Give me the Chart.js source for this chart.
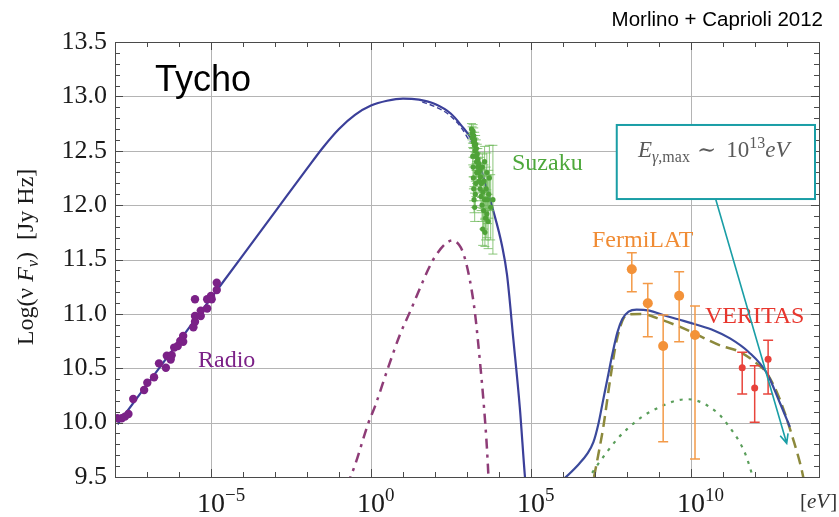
<!DOCTYPE html>
<html>
<head>
<meta charset="utf-8">
<script src="https://cdn.jsdelivr.net/npm/chart.js@4.4.1/dist/chart.umd.min.js"></script>
<style>
  html, body { margin: 0; padding: 0; background: #fff; }
  #wrap { width: 839px; height: 517px; }
</style>
</head>
<body>
<div id="wrap"><canvas id="sed" width="839" height="517"></canvas></div>
<script>
// Energies are log10(E / eV); fluxes are log10(nu F_nu / Jy Hz).

// Synchrotron model (solid)
const syncLogE = [-7.92, -6, -4, -3, -2, -1.5, -1, -0.5, 0, 0.5, 1, 1.5, 2, 2.5, 2.8, 3.2, 3.5, 3.8, 4.1, 4.25, 4.45, 4.65, 4.82, 4.88];
const syncFlux = [9.985, 10.747, 11.541, 11.938, 12.335, 12.53, 12.70, 12.83, 12.915, 12.96, 12.98, 12.97, 12.93, 12.84, 12.74, 12.57, 12.27, 11.97, 11.62, 11.36, 10.76, 10.14, 9.47, 9.30];

// Alternative synchrotron model near the peak (dashed)
const syncAltLogE = [1.6, 2.0, 2.4, 2.8, 3.1];
const syncAltFlux = [12.95, 12.905, 12.84, 12.72, 12.58];

// Thermal / secondary component (dash-dot)
const thermLogE = [-0.75, -0.5, -0.085, 0.125, 0.54, 0.906, 1.22, 1.53, 1.79, 2.0, 2.37, 2.55, 2.75, 2.885, 3.09, 3.25, 3.41, 3.53, 3.62, 3.67, 3.7];
const thermFlux = [9.42, 9.61, 9.994, 10.15, 10.51, 10.81, 11.02, 11.235, 11.41, 11.526, 11.655, 11.675, 11.635, 11.557, 11.31, 11.005, 10.546, 10.146, 9.78, 9.503, 9.30];

// Total gamma-ray model (solid)
const gammaLogE = [5.9, 6.2, 6.5, 6.75, 6.95, 7.1, 7.25, 7.4, 7.55, 7.7, 7.85, 8.05, 8.3, 8.7, 9.13, 9.6, 10.18, 10.7, 11.22, 11.8, 12.37, 12.78, 13.09];
const gammaFlux = [9.45, 9.53, 9.62, 9.71, 9.82, 9.98, 10.2, 10.42, 10.64, 10.83, 10.95, 11.02, 11.04, 11.03, 10.99, 10.95, 10.90, 10.85, 10.775, 10.65, 10.455, 10.18, 9.96];

// Hadronic (pion decay) gamma rays (dashed)
const pionLogE = [6.97, 7.1, 7.26, 7.47, 7.68, 7.99, 8.41, 9.13, 9.66, 10.18, 10.91, 11.53, 12.05, 12.37, 12.78, 13.2, 13.46, 13.56];
const pionFlux = [9.5, 9.7, 9.96, 10.39, 10.76, 10.99, 11.0, 10.94, 10.88, 10.81, 10.71, 10.65, 10.545, 10.455, 10.21, 9.84, 9.565, 9.42];

// Leptonic inverse Compton (dotted)
const icLogE = [6.75, 7.1, 7.4, 7.7, 8.0, 8.5, 9.0, 9.5, 9.9, 10.3, 10.6, 10.9, 11.2, 11.5, 11.7, 11.9, 11.96];
const icFlux = [9.47, 9.62, 9.74, 9.85, 9.94, 10.06, 10.14, 10.2, 10.215, 10.19, 10.14, 10.07, 9.96, 9.83, 9.71, 9.53, 9.46];

// Radio measurements
const radioLogE = [-7.93, -7.79, -7.69, -7.58, -7.43, -7.09, -6.99, -6.78, -6.625, -6.41, -6.38, -6.26, -6.23, -6.15, -5.96, -6.04, -5.87, -5.87, -5.55, -5.5, -5.5, -5.5, -5.32, -5.32, -5.12, -5.12, -5.0, -4.98, -4.82, -4.82];
const radioFlux = [10.04, 10.04, 10.055, 10.08, 10.217, 10.30, 10.367, 10.417, 10.545, 10.505, 10.615, 10.58, 10.62, 10.69, 10.75, 10.705, 10.744, 10.797, 10.877, 10.928, 10.98, 11.134, 10.98, 11.03, 11.05, 11.134, 11.164, 11.134, 11.22, 11.287];

// Suzaku X-ray measurements with symmetric errors
const suzakuLogE = [3.14, 3.16, 3.17, 3.18, 3.19, 3.19, 3.20, 3.20, 3.21, 3.21, 3.22, 3.23, 3.24, 3.24, 3.25, 3.26, 3.27, 3.28, 3.28, 3.29, 3.30, 3.30, 3.32, 3.33, 3.34, 3.36, 3.37, 3.38, 3.40, 3.41, 3.42, 3.44, 3.45, 3.47, 3.48, 3.49, 3.50, 3.52, 3.53, 3.55, 3.55, 3.56, 3.58, 3.60, 3.62, 3.62, 3.64, 3.66, 3.68, 3.70, 3.74, 3.81];
const suzakuFlux = [12.70, 12.66, 12.62, 12.45, 12.68, 12.35, 12.58, 12.25, 12.64, 12.15, 12.05, 12.55, 12.60, 11.98, 12.50, 12.10, 12.56, 12.45, 12.20, 12.52, 12.40, 12.30, 12.47, 12.35, 12.42, 12.30, 12.38, 12.22, 12.32, 12.15, 12.26, 12.08, 12.20, 12.00, 12.35, 11.78, 12.12, 11.95, 12.22, 12.05, 12.40, 11.75, 11.88, 12.15, 11.92, 12.30, 12.05, 11.85, 12.10, 12.25, 11.98, 12.05];
const suzakuErr  = [0.05, 0.06, 0.05, 0.08, 0.06, 0.09, 0.06, 0.10, 0.07, 0.11, 0.12, 0.06, 0.07, 0.13, 0.07, 0.12, 0.08, 0.07, 0.12, 0.08, 0.08, 0.10, 0.09, 0.08, 0.10, 0.09, 0.10, 0.10, 0.12, 0.11, 0.12, 0.13, 0.13, 0.15, 0.12, 0.15, 0.15, 0.17, 0.15, 0.18, 0.14, 0.13, 0.20, 0.20, 0.22, 0.18, 0.22, 0.25, 0.22, 0.30, 0.30, 0.50];

// Fermi-LAT measurements with upper / lower error limits
const fermiLogE = [8.15, 8.65, 9.13, 9.63, 10.125];
const fermiFlux = [11.41, 11.097, 10.705, 11.167, 10.806];
const fermiHi   = [11.563, 11.28, 10.99, 11.388, 11.072];
const fermiLo   = [11.204, 10.79, 9.825, 10.744, 9.666];

// VERITAS measurements
const veritasLogE = [11.60, 11.99, 12.41];
const veritasFlux = [10.505, 10.318, 10.582];
const veritasHi   = [10.647, 10.523, 10.757];
const veritasLo   = [10.263, 10.003, 10.263];

// Axis ticks
const xMajorExps = [-5, 0, 5, 10];
const xMinDecade = -8, xMaxDecade = 14;
const yMin = 9.5, yMax = 13.5, yStep = 0.5, yMinorStep = 0.1;

const pts = (le, fl) => le.map((v, i) => ({ x: Math.pow(10, v), y: fl[i] }));

const SERIF = '"Liberation Serif", "DejaVu Serif", serif';
const SANS = '"Liberation Sans", Arial, sans-serif';

function drawRuns(ctx, runs, x, y) {
  for (const r of runs) {
    ctx.font = r.font;
    ctx.fillText(r.t, x, y + (r.dy || 0));
    x += ctx.measureText(r.t).width + (r.gap || 0);
  }
  return x;
}
function runsWidth(ctx, runs) {
  let w = 0;
  for (const r of runs) { ctx.font = r.font; w += ctx.measureText(r.t).width + (r.gap || 0); }
  return w;
}

const decor = {
  id: 'decor',
  beforeDraw(chart) {
    const ctx = chart.ctx;
    ctx.save();
    ctx.fillStyle = '#fff';
    ctx.fillRect(0, 0, chart.width, chart.height);
    ctx.restore();
  },
  beforeDatasetsDraw(chart) {
    const { ctx, chartArea: a, scales: { x, y } } = chart;
    ctx.save();
    ctx.strokeStyle = '#b4b4b4';
    ctx.lineWidth = 1;
    ctx.beginPath();
    for (const e of xMajorExps) {
      const px = Math.round(x.getPixelForValue(Math.pow(10, e))) + 0.5;
      ctx.moveTo(px, a.top); ctx.lineTo(px, a.bottom);
    }
    for (let v = yMin + yStep; v < yMax - 1e-9; v += yStep) {
      const py = Math.round(y.getPixelForValue(v)) + 0.5;
      ctx.moveTo(a.left, py); ctx.lineTo(a.right, py);
    }
    ctx.stroke();
    ctx.restore();
  },
  beforeDatasetDraw(chart, args) {
    const ds = chart.data.datasets[args.index];
    if (!ds.errHi) return;
    const { ctx, scales: { y } } = chart;
    const meta = chart.getDatasetMeta(args.index);
    ctx.save();
    ctx.strokeStyle = ds.barColor;
    ctx.lineWidth = ds.barWidth || 1.5;
    ctx.beginPath();
    meta.data.forEach((el, i) => {
      const px = el.x;
      const hi = y.getPixelForValue(ds.errHi[i]);
      const lo = y.getPixelForValue(ds.errLo[i]);
      const c = ds.capHalf;
      ctx.moveTo(px, hi); ctx.lineTo(px, lo);
      ctx.moveTo(px - c, hi); ctx.lineTo(px + c, hi);
      ctx.moveTo(px - c, lo); ctx.lineTo(px + c, lo);
    });
    ctx.stroke();
    ctx.restore();
  },
  afterDatasetsDraw(chart) {
    const { ctx, chartArea: a, scales: { x, y } } = chart;
    ctx.save();

    // frame and inward tick marks
    ctx.strokeStyle = '#4a4a4a';
    ctx.lineWidth = 1;
    ctx.strokeRect(Math.round(a.left) + 0.5, Math.round(a.top) + 0.5, Math.round(a.right - a.left), Math.round(a.bottom - a.top));
    ctx.beginPath();
    for (let d = xMinDecade; d <= xMaxDecade; d++) {
      const px = Math.round(x.getPixelForValue(Math.pow(10, d))) + 0.5;
      const len = (d % 5 === 0) ? 8 : 5;
      ctx.moveTo(px, a.bottom); ctx.lineTo(px, a.bottom - len);
      ctx.moveTo(px, a.top); ctx.lineTo(px, a.top + len);
    }
    const nMinor = Math.round((yMax - yMin) / yMinorStep);
    for (let k = 0; k <= nMinor; k++) {
      const v = yMin + k * yMinorStep;
      const py = Math.round(y.getPixelForValue(v)) + 0.5;
      const len = (k % 5 === 0) ? 8 : 5;
      ctx.moveTo(a.left, py); ctx.lineTo(a.left + len, py);
      ctx.moveTo(a.right, py); ctx.lineTo(a.right - len, py);
    }
    ctx.stroke();

    // x tick labels: 10 with exponent
    ctx.fillStyle = '#1a1a1a';
    ctx.textBaseline = 'alphabetic';
    ctx.textAlign = 'left';
    for (const e of xMajorExps) {
      const px = x.getPixelForValue(Math.pow(10, e));
      ctx.font = '28px ' + SERIF;
      const w10 = ctx.measureText('10').width;
      const x0 = px - w10 / 2;
      drawRuns(ctx, [
        { t: '10', font: '28px ' + SERIF },
        { t: (e < 0 ? '\u2212' + (-e) : String(e)), font: '19px ' + SERIF, dy: -11 }
      ], x0, 512);
    }
    // unit label
    ctx.fillStyle = '#333';
    drawRuns(ctx, [
      { t: '[', font: '21px ' + SERIF },
      { t: 'eV', font: 'italic 21px ' + SERIF, gap: 1 },
      { t: ']', font: '21px ' + SERIF }
    ], 800, 508);

    // y axis title, rotated
    ctx.save();
    ctx.translate(33, 257);
    ctx.rotate(-Math.PI / 2);
    ctx.fillStyle = '#1a1a1a';
    const titleRuns = [
      { t: 'Log(\u03bd ', font: '24px ' + SERIF },
      { t: 'F', font: 'italic 24px ' + SERIF },
      { t: '\u03bd', font: 'italic 16px ' + SERIF, dy: 5 },
      { t: ')  [Jy Hz]', font: '24px ' + SERIF }
    ];
    drawRuns(ctx, titleRuns, -runsWidth(ctx, titleRuns) / 2, 0);
    ctx.restore();

    // headings
    ctx.fillStyle = '#000';
    ctx.font = '36px ' + SANS;
    ctx.fillText('Tycho', 155, 91);
    ctx.font = '20.5px ' + SANS;
    ctx.textAlign = 'right';
    ctx.fillText('Morlino + Caprioli 2012', 823, 26);
    ctx.textAlign = 'left';

    // data set labels
    ctx.font = '24px ' + SERIF;
    ctx.fillStyle = '#4ea83c'; ctx.fillText('Suzaku', 512, 170);
    ctx.fillStyle = '#f08b33'; ctx.fillText('FermiLAT', 592, 247);
    ctx.fillStyle = '#e8362d'; ctx.fillText('VERITAS', 705, 323);
    ctx.fillStyle = '#7b2187'; ctx.fillText('Radio', 198, 367);

    // maximum photon energy callout
    const bx0 = x.getPixelForValue(Math.pow(10, 7.68)), bx1 = x.getPixelForValue(Math.pow(10, 13.875));
    const by0 = y.getPixelForValue(12.737), by1 = y.getPixelForValue(12.056);
    const teal = '#1a9ea6';
    ctx.fillStyle = '#fff';
    ctx.fillRect(bx0, by0, bx1 - bx0, by1 - by0);
    ctx.strokeStyle = teal;
    ctx.lineWidth = 2;
    ctx.strokeRect(bx0, by0, bx1 - bx0, by1 - by0);

    ctx.fillStyle = '#5a5a5a';
    drawRuns(ctx, [
      { t: 'E', font: 'italic 23px ' + SERIF },
      { t: '\u03b3', font: 'italic 16px ' + SERIF, dy: 5 },
      { t: ',max', font: '16px ' + SERIF, dy: 5, gap: 7 },
      { t: '\u223c', font: '23px ' + SERIF, gap: 10 },
      { t: '10', font: '23px ' + SERIF },
      { t: '13', font: '16px ' + SERIF, dy: -9 },
      { t: 'eV', font: 'italic 23px ' + SERIF }
    ], 638, 157);

    // arrow towards the cutoff
    const ax0 = x.getPixelForValue(Math.pow(10, 10.77)), ay0 = by1;
    const ax1 = x.getPixelForValue(Math.pow(10, 12.99)), ay1 = y.getPixelForValue(9.81);
    ctx.strokeStyle = teal;
    ctx.lineWidth = 1.6;
    ctx.beginPath();
    ctx.moveTo(ax0, ay0); ctx.lineTo(ax1, ay1);
    const ang = Math.atan2(ay1 - ay0, ax1 - ax0);
    const hl = 10, hw = 0.42;
    ctx.moveTo(ax1 - hl * Math.cos(ang - hw), ay1 - hl * Math.sin(ang - hw));
    ctx.lineTo(ax1, ay1);
    ctx.lineTo(ax1 - hl * Math.cos(ang + hw), ay1 - hl * Math.sin(ang + hw));
    ctx.stroke();

    ctx.restore();
  }
};

const curve = (data, color, width, dash) => ({
  data, borderColor: color, borderWidth: width, borderDash: dash || [],
  pointRadius: 0, fill: false, cubicInterpolationMode: 'monotone', showLine: true
});
const marks = (data, color, r, extra) => Object.assign({
  data, backgroundColor: color, borderWidth: 0, pointRadius: r, showLine: false
}, extra || {});

const fermiErr = { errHi: fermiHi, errLo: fermiLo, barColor: '#f39a48', barWidth: 1.5, capHalf: 5 };
const veritasErr = { errHi: veritasHi, errLo: veritasLo, barColor: '#e8453c', barWidth: 1.5, capHalf: 5 };
const suzakuErrBars = {
  errHi: suzakuFlux.map((v, i) => v + suzakuErr[i]),
  errLo: suzakuFlux.map((v, i) => v - suzakuErr[i]),
  barColor: 'rgba(110,185,90,0.8)', barWidth: 1, capHalf: 4.5
};

new Chart(document.getElementById('sed'), {
  type: 'line',
  data: {
    datasets: [
      marks(pts(fermiLogE, fermiFlux), '#f39239', 5, fermiErr),
      marks(pts(veritasLogE, veritasFlux), '#e8413a', 3.5, veritasErr),
      marks(pts(suzakuLogE, suzakuFlux), '#4fa238', 2.6, suzakuErrBars),
      marks(pts(radioLogE, radioFlux), '#7b2187', 4.2),
      curve(pts(syncLogE, syncFlux), '#3b3f99', 2.2),
      curve(pts(syncAltLogE, syncAltFlux), '#3b3f99', 1.4, [5, 3]),
      curve(pts(gammaLogE, gammaFlux), '#3b4a9c', 2.2),
      curve(pts(pionLogE, pionFlux), '#8c893c', 2.5, [11, 6]),
      curve(pts(icLogE, icFlux), '#5a9e5a', 2.2, [3, 6]),
      curve(pts(thermLogE, thermFlux), '#8e3c77', 2.5, [10, 6, 3, 6])
    ]
  },
  options: {
    responsive: false,
    animation: false,
    devicePixelRatio: 1,
    layout: { padding: { top: 42, right: 20, left: 0, bottom: 0 } },
    plugins: { legend: { display: false }, tooltip: { enabled: false } },
    scales: {
      x: {
        type: 'logarithmic',
        min: Math.pow(10, xMinDecade), max: Math.pow(10, xMaxDecade),
        grid: { display: false }, border: { display: false },
        ticks: { display: false },
        afterFit(s) { s.height = 40; }
      },
      y: {
        type: 'linear', min: yMin, max: yMax,
        grid: { display: false }, border: { display: false },
        ticks: {
          stepSize: yStep, padding: 0, color: '#1a1a1a',
          font: { family: SERIF, size: 26 },
          callback: v => Number(v).toFixed(1)
        },
        afterFit(s) { s.width = 115; }
      }
    }
  },
  plugins: [decor]
});
</script>
</body>
</html>
